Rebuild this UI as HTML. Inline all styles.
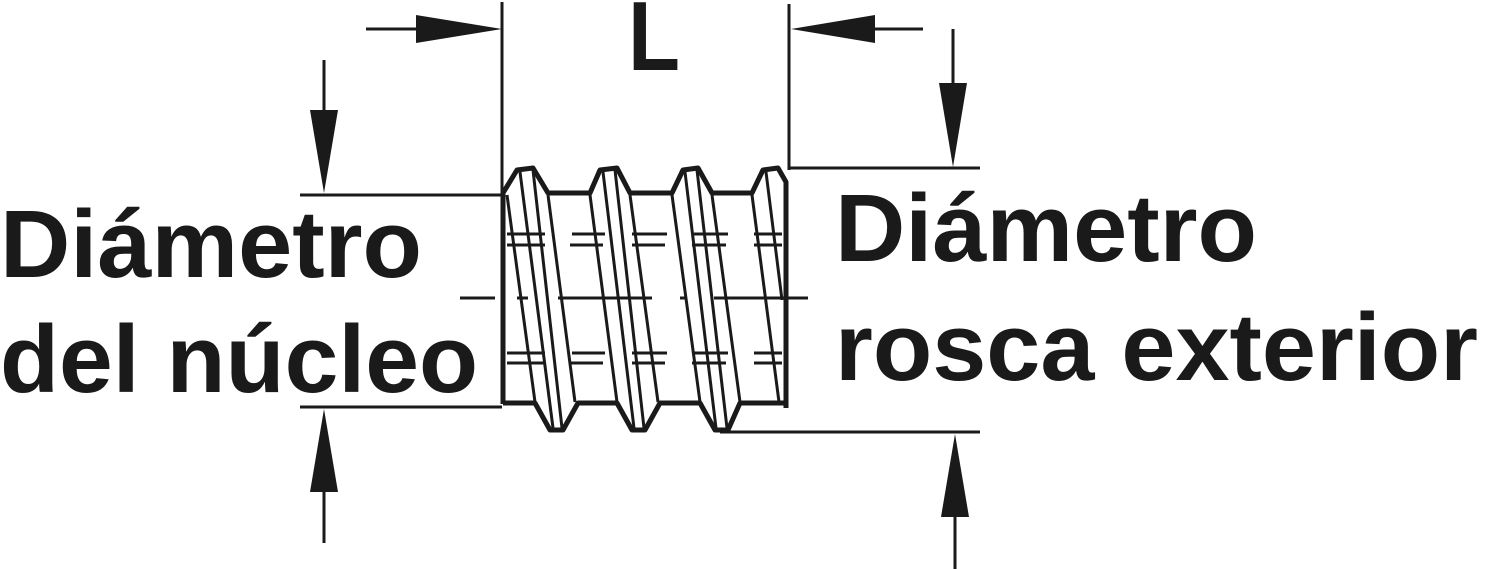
<!DOCTYPE html>
<html><head><meta charset="utf-8"><style>
html,body{margin:0;padding:0;background:#fff;}
svg{display:block;}
text{font-family:"Liberation Sans",Arial,sans-serif;font-weight:bold;fill:#1a1a1a;}
</style></head><body>
<svg width="1488" height="569" viewBox="0 0 1488 569" xmlns="http://www.w3.org/2000/svg">
<g stroke="#1a1a1a" fill="none" stroke-width="3">
  <line x1="502" y1="2" x2="502" y2="196"/>
  <line x1="789" y1="4" x2="789" y2="170"/>
  <line x1="300" y1="195" x2="502" y2="195"/>
  <line x1="300" y1="407" x2="502" y2="407"/>
  <line x1="789" y1="168" x2="980" y2="168"/>
  <line x1="720" y1="432" x2="980" y2="432"/>
  <line x1="366" y1="29" x2="420" y2="29"/>
  <line x1="870" y1="29" x2="923" y2="29"/>
  <line x1="324" y1="60" x2="324" y2="115"/>
  <line x1="953" y1="29" x2="953" y2="90"/>
  <line x1="324" y1="485" x2="324" y2="543"/>
  <line x1="955" y1="510" x2="955" y2="569"/>
</g>
<g fill="#1a1a1a">
  <polygon points="502,29 416,15 416,43"/>
  <polygon points="791,29 875,15 875,43"/>
  <polygon points="324,193 310,110 338,110"/>
  <polygon points="953,167 939,83 967,83"/>
  <polygon points="324,409 310,492 338,492"/>
  <polygon points="955,434 941,517 969,517"/>
</g>
<g stroke="#1a1a1a" fill="none" stroke-linejoin="round">
  <polyline stroke-width="5" points="503,193 517,170 533,168 548,193 590,193 600,170 617,168 630,193 672,193 683,170 698,168 712,193 752,193 763,170 778,168 786,182 786,408"/>
  <line stroke-width="5" x1="503" y1="193" x2="503" y2="404"/>
  <polyline stroke-width="5" points="503,403 535,403 550,430 563,430 578,403 617,403 632,430 645,430 660,403 700,403 715,430 728,430 740,403 786,403"/>
  <g stroke-width="3">
    <line x1="507" y1="195" x2="535" y2="402"/>
    <line x1="520" y1="172" x2="553" y2="428"/>
    <line x1="533" y1="170" x2="562" y2="428"/>
    <line x1="548" y1="195" x2="575" y2="402"/>
    <line x1="590" y1="195" x2="617" y2="402"/>
    <line x1="603" y1="172" x2="634" y2="428"/>
    <line x1="615" y1="170" x2="644" y2="428"/>
    <line x1="630" y1="195" x2="658" y2="402"/>
    <line x1="672" y1="195" x2="700" y2="402"/>
    <line x1="685" y1="172" x2="716" y2="428"/>
    <line x1="697" y1="170" x2="727" y2="428"/>
    <line x1="712" y1="195" x2="740" y2="402"/>
    <line x1="752" y1="195" x2="779" y2="402"/>
    <line x1="766" y1="172" x2="782" y2="300"/>
  </g>
  <g stroke-width="3">
    <line x1="507" y1="234" x2="545" y2="234"/><line x1="572" y1="234" x2="605" y2="234"/><line x1="632" y1="234" x2="667" y2="234"/><line x1="694" y1="234" x2="728" y2="234"/><line x1="754" y1="234" x2="782" y2="234"/>
    <line x1="507" y1="245" x2="545" y2="245"/><line x1="570" y1="245" x2="603" y2="245"/><line x1="632" y1="245" x2="665" y2="245"/><line x1="692" y1="245" x2="726" y2="245"/><line x1="754" y1="245" x2="782" y2="245"/>
    <line x1="507" y1="353" x2="545" y2="353"/><line x1="572" y1="353" x2="605" y2="353"/><line x1="632" y1="353" x2="667" y2="353"/><line x1="694" y1="353" x2="728" y2="353"/><line x1="754" y1="353" x2="782" y2="353"/>
    <line x1="507" y1="363" x2="545" y2="363"/><line x1="570" y1="363" x2="603" y2="363"/><line x1="632" y1="363" x2="665" y2="363"/><line x1="692" y1="363" x2="726" y2="363"/><line x1="754" y1="363" x2="782" y2="363"/>
    <line x1="460" y1="298" x2="495" y2="298"/><line x1="517" y1="298" x2="528" y2="298"/><line x1="558" y1="298" x2="652" y2="298"/><line x1="680" y1="298" x2="686" y2="298"/><line x1="714" y1="298" x2="808" y2="298"/>
  </g>
</g>
<text x="628" y="70" font-size="98" textLength="52" lengthAdjust="spacingAndGlyphs">L</text>
<text x="0" y="277" font-size="96" textLength="422" lengthAdjust="spacingAndGlyphs">Diámetro</text>
<text x="0" y="392" font-size="96" textLength="478" lengthAdjust="spacingAndGlyphs">del núcleo</text>
<text x="835" y="261" font-size="96" textLength="422" lengthAdjust="spacingAndGlyphs">Diámetro</text>
<text x="835" y="380" font-size="96" textLength="643" lengthAdjust="spacingAndGlyphs">rosca exterior</text>
</svg>
</body></html>
